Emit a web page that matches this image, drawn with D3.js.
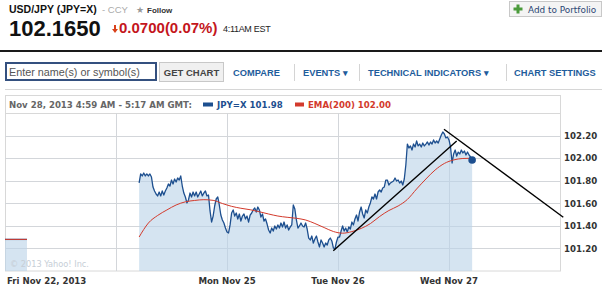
<!DOCTYPE html>
<html lang="en">
<head>
  <meta charset="UTF-8">
  <title>USD/JPY (JPY=X)</title>
  <style>
    body {
      margin: 0;
      background: #fff;
    }
    svg {
      display: block;
    }
    .hdr { font-family: 'Liberation Sans', Arial, sans-serif; }
    .chartfont { font-family: 'DejaVu Sans', Verdana, sans-serif; font-weight: bold; font-size: 8.6px; }
    .link { font-family: 'Liberation Sans', Arial, sans-serif; font-weight: bold; font-size: 9.3px; fill: #1e5d9c; }
  </style>
  <script src="https://d3js.org/d3.v7.min.js"></script>
</head>
<body>
  <svg></svg>

  <script>
    const width = 602, height = 289;

    // x axis is in session hours (5 day slots of 24h each)
    const seriesStart = 29;        // first JPY=X point
    const seriesStep = 1 / 3;      // 20 minute bars
    const emaStep = 2;             // EMA sampled every 2h

    const jpyValues = [
      101.780, 101.860, 101.842, 101.868, 101.842, 101.860, 101.842, 101.860, 101.833, 101.744,
      101.709, 101.682, 101.665, 101.700, 101.665, 101.709, 101.673, 101.709, 101.735, 101.771,
      101.753, 101.806, 101.771, 101.815, 101.789, 101.824, 101.806, 101.842, 101.753, 101.691,
      101.656, 101.603, 101.629, 101.691, 101.656, 101.700, 101.665, 101.700, 101.656, 101.682,
      101.709, 101.665, 101.691, 101.709, 101.665, 101.673, 101.532, 101.434, 101.487, 101.576,
      101.638, 101.656, 101.585, 101.496, 101.452, 101.425, 101.381, 101.346, 101.337, 101.408,
      101.514, 101.541, 101.487, 101.514, 101.461, 101.505, 101.443, 101.487, 101.505, 101.461,
      101.487, 101.434, 101.496, 101.514, 101.541, 101.558, 101.523, 101.567, 101.541, 101.478,
      101.505, 101.443, 101.461, 101.416, 101.363, 101.337, 101.381, 101.354, 101.399, 101.372,
      101.408, 101.381, 101.425, 101.390, 101.434, 101.381, 101.408, 101.363, 101.390, 101.408,
      101.585, 101.549, 101.452, 101.381, 101.399, 101.425, 101.399, 101.390, 101.425, 101.372,
      101.292, 101.275, 101.310, 101.248, 101.284, 101.310, 101.257, 101.213, 101.275, 101.248,
      101.213, 101.248, 101.230, 101.275, 101.292, 101.266, 101.204, 101.195, 101.257, 101.301,
      101.301, 101.354, 101.399, 101.354, 101.381, 101.346, 101.390, 101.372, 101.434, 101.408,
      101.461, 101.496, 101.443, 101.523, 101.567, 101.505, 101.470, 101.541, 101.514, 101.567,
      101.603, 101.656, 101.638, 101.682, 101.638, 101.700, 101.718, 101.700, 101.735, 101.744,
      101.806, 101.806, 101.762, 101.780, 101.789, 101.797, 101.824, 101.797, 101.806, 101.780,
      101.797, 101.762, 101.815, 101.939, 102.125, 102.090, 102.108, 102.072, 102.125, 102.099,
      102.152, 102.108, 102.125, 102.099, 102.134, 102.108, 102.125, 102.143, 102.116, 102.143,
      102.125, 102.161, 102.134, 102.152, 102.134, 102.170, 102.205, 102.232, 102.214, 102.179,
      102.187, 102.161, 102.099, 101.957, 102.037, 102.072, 102.019, 102.054, 102.037, 102.072,
      102.046, 102.063, 102.028, 102.054, 102.028, 102.010, 101.984
    ];

    const emaValues = [
      101.301, 101.425, 101.492, 101.541, 101.585, 101.613, 101.625, 101.632, 101.626, 101.598,
      101.573, 101.556, 101.543, 101.525, 101.505, 101.487, 101.476, 101.467, 101.452, 101.421,
      101.385, 101.350, 101.335, 101.349, 101.377, 101.420, 101.483, 101.536, 101.576, 101.634,
      101.727, 101.815, 101.895, 101.953, 101.984, 101.997, 101.999
    ];

    // Friday stub
    const friHours = [0, 4.75];
    const friValues = [101.28, 101.28];

    // hand drawn trend lines [hour, price]
    const trendLines = [
      [[70.98, 101.180], [97.66, 102.152]],
      [[94.92, 102.256], [120.71, 101.476]]
    ];

    const yTicks = [101.2, 101.4, 101.6, 101.8, 102.0, 102.2];
    const dayGrid = [24, 48, 72, 96];
    const dayLabels = [
      { h: 0, text: "Fri Nov 22, 2013" },
      { h: 48, text: "Mon Nov 25" },
      { h: 72, text: "Tue Nov 26" },
      { h: 96, text: "Wed Nov 27" }
    ];

    const toolLinks = ["COMPARE", "EVENTS \u25BE", "TECHNICAL INDICATORS \u25BE", "CHART SETTINGS"];

    const svg = d3.select("svg")
      .attr("width", width)
      .attr("height", height);

    // ---------- header ----------
    const hdr = svg.append("g").attr("class", "hdr");
    hdr.append("text").attr("x", 9).attr("y", 13)
      .attr("font-size", 10.5).attr("font-weight", "bold").attr("fill", "#111")
      .text("USD/JPY (JPY=X)");
    hdr.append("text").attr("x", 102).attr("y", 13)
      .attr("font-size", 9.5).attr("fill", "#aaa")
      .text("- CCY");
    hdr.append("text").attr("x", 136).attr("y", 13)
      .attr("font-size", 9).attr("fill", "#999")
      .text("\u2605");
    hdr.append("text").attr("x", 147).attr("y", 13)
      .attr("font-size", 8).attr("font-weight", "bold").attr("fill", "#333")
      .text("Follow");

    hdr.append("text").attr("x", 9).attr("y", 36)
      .attr("font-size", 22).attr("font-weight", "bold").attr("fill", "#111")
      .text("102.1650");
    hdr.append("path")
      .attr("d", "M114,25h2v4h2l-3,4l-3,-4h2z")
      .attr("fill", "#d8401a");
    hdr.append("text").attr("x", 119).attr("y", 33)
      .attr("font-size", 15).attr("font-weight", "bold").attr("fill", "#c4161c")
      .text("0.0700(0.07%)");
    hdr.append("text").attr("x", 223).attr("y", 32)
      .attr("font-size", 9).attr("fill", "#222").attr("letter-spacing", -0.3)
      .text("4:11AM EST");

    // add to portfolio button
    svg.append("rect").attr("x", 509.5).attr("y", 1.5).attr("width", 92).attr("height", 15)
      .attr("fill", "#f4f4f4").attr("stroke", "#c8c8c8");
    svg.append("path")
      .attr("d", "M515,6h3v-3h3v3h3v3h-3v3h-3v-3h-3z")
      .attr("transform", "translate(-1.5,1.5)")
      .attr("fill", "#4a9a3a");
    svg.append("text").attr("x", 528).attr("y", 13)
      .attr("font-family", "'DejaVu Sans', Verdana, sans-serif")
      .attr("font-size", 8.9).attr("fill", "#2a4673")
      .text("Add to Portfolio");

    svg.append("rect").attr("x", 0).attr("y", 50).attr("width", width).attr("height", 2)
      .attr("fill", "#1a1a1a");

    // ---------- toolbar ----------
    svg.append("rect").attr("x", 6).attr("y", 63).attr("width", 150).attr("height", 17)
      .attr("fill", "#fff").attr("stroke", "#34507f").attr("stroke-width", 2);
    svg.append("text").attr("class", "hdr").attr("x", 9).attr("y", 75.5)
      .attr("font-size", 10.8).attr("fill", "#555")
      .text("Enter name(s) or symbol(s)");
    svg.append("rect").attr("x", 159.5).attr("y", 62.5).attr("width", 64).attr("height", 19)
      .attr("fill", "#f0f0f0").attr("stroke", "#c8c8c8");
    svg.append("text").attr("class", "hdr").attr("x", 191.5).attr("y", 76)
      .attr("text-anchor", "middle").attr("font-size", 9.5).attr("font-weight", "bold").attr("fill", "#444")
      .text("GET CHART");

    const linkX = [233, 303, 368, 514];
    svg.selectAll("text.link")
      .data(toolLinks)
      .join("text")
      .attr("class", "link")
      .attr("x", (d, i) => linkX[i])
      .attr("y", 76)
      .text(d => d);
    svg.selectAll("line.sep")
      .data([294, 359, 506])
      .join("line")
      .attr("class", "sep")
      .attr("x1", d => d + 0.5).attr("x2", d => d + 0.5)
      .attr("y1", 64).attr("y2", 81)
      .attr("stroke", "#d4d4d4");
    svg.append("line").attr("x1", 5).attr("x2", width).attr("y1", 89.5).attr("y2", 89.5)
      .attr("stroke", "#d6d6d6");

    // ---------- chart ----------
    const x = d3.scaleLinear().domain([0, 120]).range([5, 560]);
    const y = d3.scaleLinear().domain([101.0, 102.4]).range([271, 113]);

    const jpy = jpyValues.map((v, i) => ({ h: seriesStart + i * seriesStep, v }));
    const ema = emaValues.map((v, i) => ({ h: seriesStart + i * emaStep, v }));
    const fri = friHours.map((h, i) => ({ h, v: friValues[i] }));

    const chart = svg.append("g");

    // legend box
    chart.append("rect").attr("x", 5.5).attr("y", 95.5).attr("width", 555).attr("height", 175.5)
      .attr("fill", "#fff").attr("stroke", "#d8d8d8");
    chart.append("line").attr("x1", 5).attr("x2", 560).attr("y1", y(102.4) + 0.5).attr("y2", y(102.4) + 0.5)
      .attr("stroke", "#d8d8d8");

    // grid
    chart.selectAll("line.hgrid")
      .data(yTicks)
      .join("line")
      .attr("x1", x(0)).attr("x2", x(120))
      .attr("y1", d => Math.round(y(d)) + 0.5).attr("y2", d => Math.round(y(d)) + 0.5)
      .attr("stroke", "#d3d6da");
    chart.selectAll("line.vgrid")
      .data(dayGrid)
      .join("line")
      .attr("x1", d => Math.round(x(d)) + 0.5).attr("x2", d => Math.round(x(d)) + 0.5)
      .attr("y1", y(102.4)).attr("y2", y(101.0))
      .attr("stroke", "#d3d6da");

    const area = d3.area()
      .x(d => x(d.h))
      .y0(y(101.0))
      .y1(d => y(d.v));
    const line = d3.line()
      .x(d => x(d.h))
      .y(d => y(d.v));

    [fri, jpy].forEach(s => {
      chart.append("path").datum(s).attr("d", area)
        .attr("fill", "#bcd4e8").attr("fill-opacity", 0.62);
    });

    chart.append("text").attr("x", 10).attr("y", 267)
      .attr("font-family", "'DejaVu Sans', Verdana, sans-serif")
      .attr("font-size", 8.2).attr("fill", "#c6ced6")
      .text("\u00A9 2013 Yahoo! Inc.");

    [fri, jpy].forEach(s => {
      chart.append("path").datum(s).attr("d", line)
        .attr("fill", "none").attr("stroke", "#1d4f8f").attr("stroke-width", 1.3)
        .attr("stroke-linejoin", "round");
    });
    [fri, ema].forEach(s => {
      chart.append("path").datum(s).attr("d", line.curve(d3.curveMonotoneX))
        .attr("fill", "none").attr("stroke", "#d33a2c").attr("stroke-width", 1);
    });
    line.curve(d3.curveLinear);

    const last = jpy[jpy.length - 1];
    chart.append("circle").attr("cx", x(last.h)).attr("cy", y(last.v)).attr("r", 3.8)
      .attr("fill", "#1d4f8f");

    chart.selectAll("path.trend")
      .data(trendLines)
      .join("path")
      .attr("class", "trend")
      .attr("d", d => line(d.map(p => ({ h: p[0], v: p[1] }))))
      .attr("fill", "none").attr("stroke", "#000").attr("stroke-width", 1.4);

    // y axis labels
    const yAxis = d3.axisRight(y)
      .tickValues(yTicks)
      .tickSize(0)
      .tickPadding(4)
      .tickFormat(d3.format(".2f"));
    chart.append("g")
      .attr("class", "chartfont")
      .attr("transform", `translate(${x(120)},0)`)
      .call(yAxis)
      .call(g => g.select(".domain").remove())
      .call(g => g.selectAll("text").attr("fill", "#333").attr("font-family", null).attr("font-size", null));

    // x labels
    chart.selectAll("text.xlab")
      .data(dayLabels)
      .join("text")
      .attr("class", "xlab chartfont")
      .attr("x", (d, i) => i === 0 ? x(d.h) + 2 : x(d.h))
      .attr("y", 284)
      .attr("text-anchor", (d, i) => i === 0 ? "start" : "middle")
      .attr("fill", "#333")
      .text(d => d.text);

    // legend text
    const leg = chart.append("text").attr("class", "chartfont").attr("x", 9).attr("y", 108);
    leg.append("tspan").attr("fill", "#666").text("Nov 28, 2013 4:59 AM - 5:17 AM GMT:");
    chart.append("rect").attr("x", 203).attr("y", 102.5).attr("width", 10).attr("height", 4).attr("fill", "#1d4f8f");
    chart.append("text").attr("class", "chartfont").attr("x", 217).attr("y", 108)
      .attr("fill", "#1d4f8f").text("JPY=X " + d3.format(".2f")(last.v));
    chart.append("rect").attr("x", 295).attr("y", 102.5).attr("width", 9).attr("height", 4).attr("fill", "#d33a2c");
    chart.append("text").attr("class", "chartfont").attr("x", 308).attr("y", 108)
      .attr("fill", "#d33a2c").text("EMA(200) " + d3.format(".2f")(emaValues[emaValues.length - 1]));
  </script>
</body>
</html>
